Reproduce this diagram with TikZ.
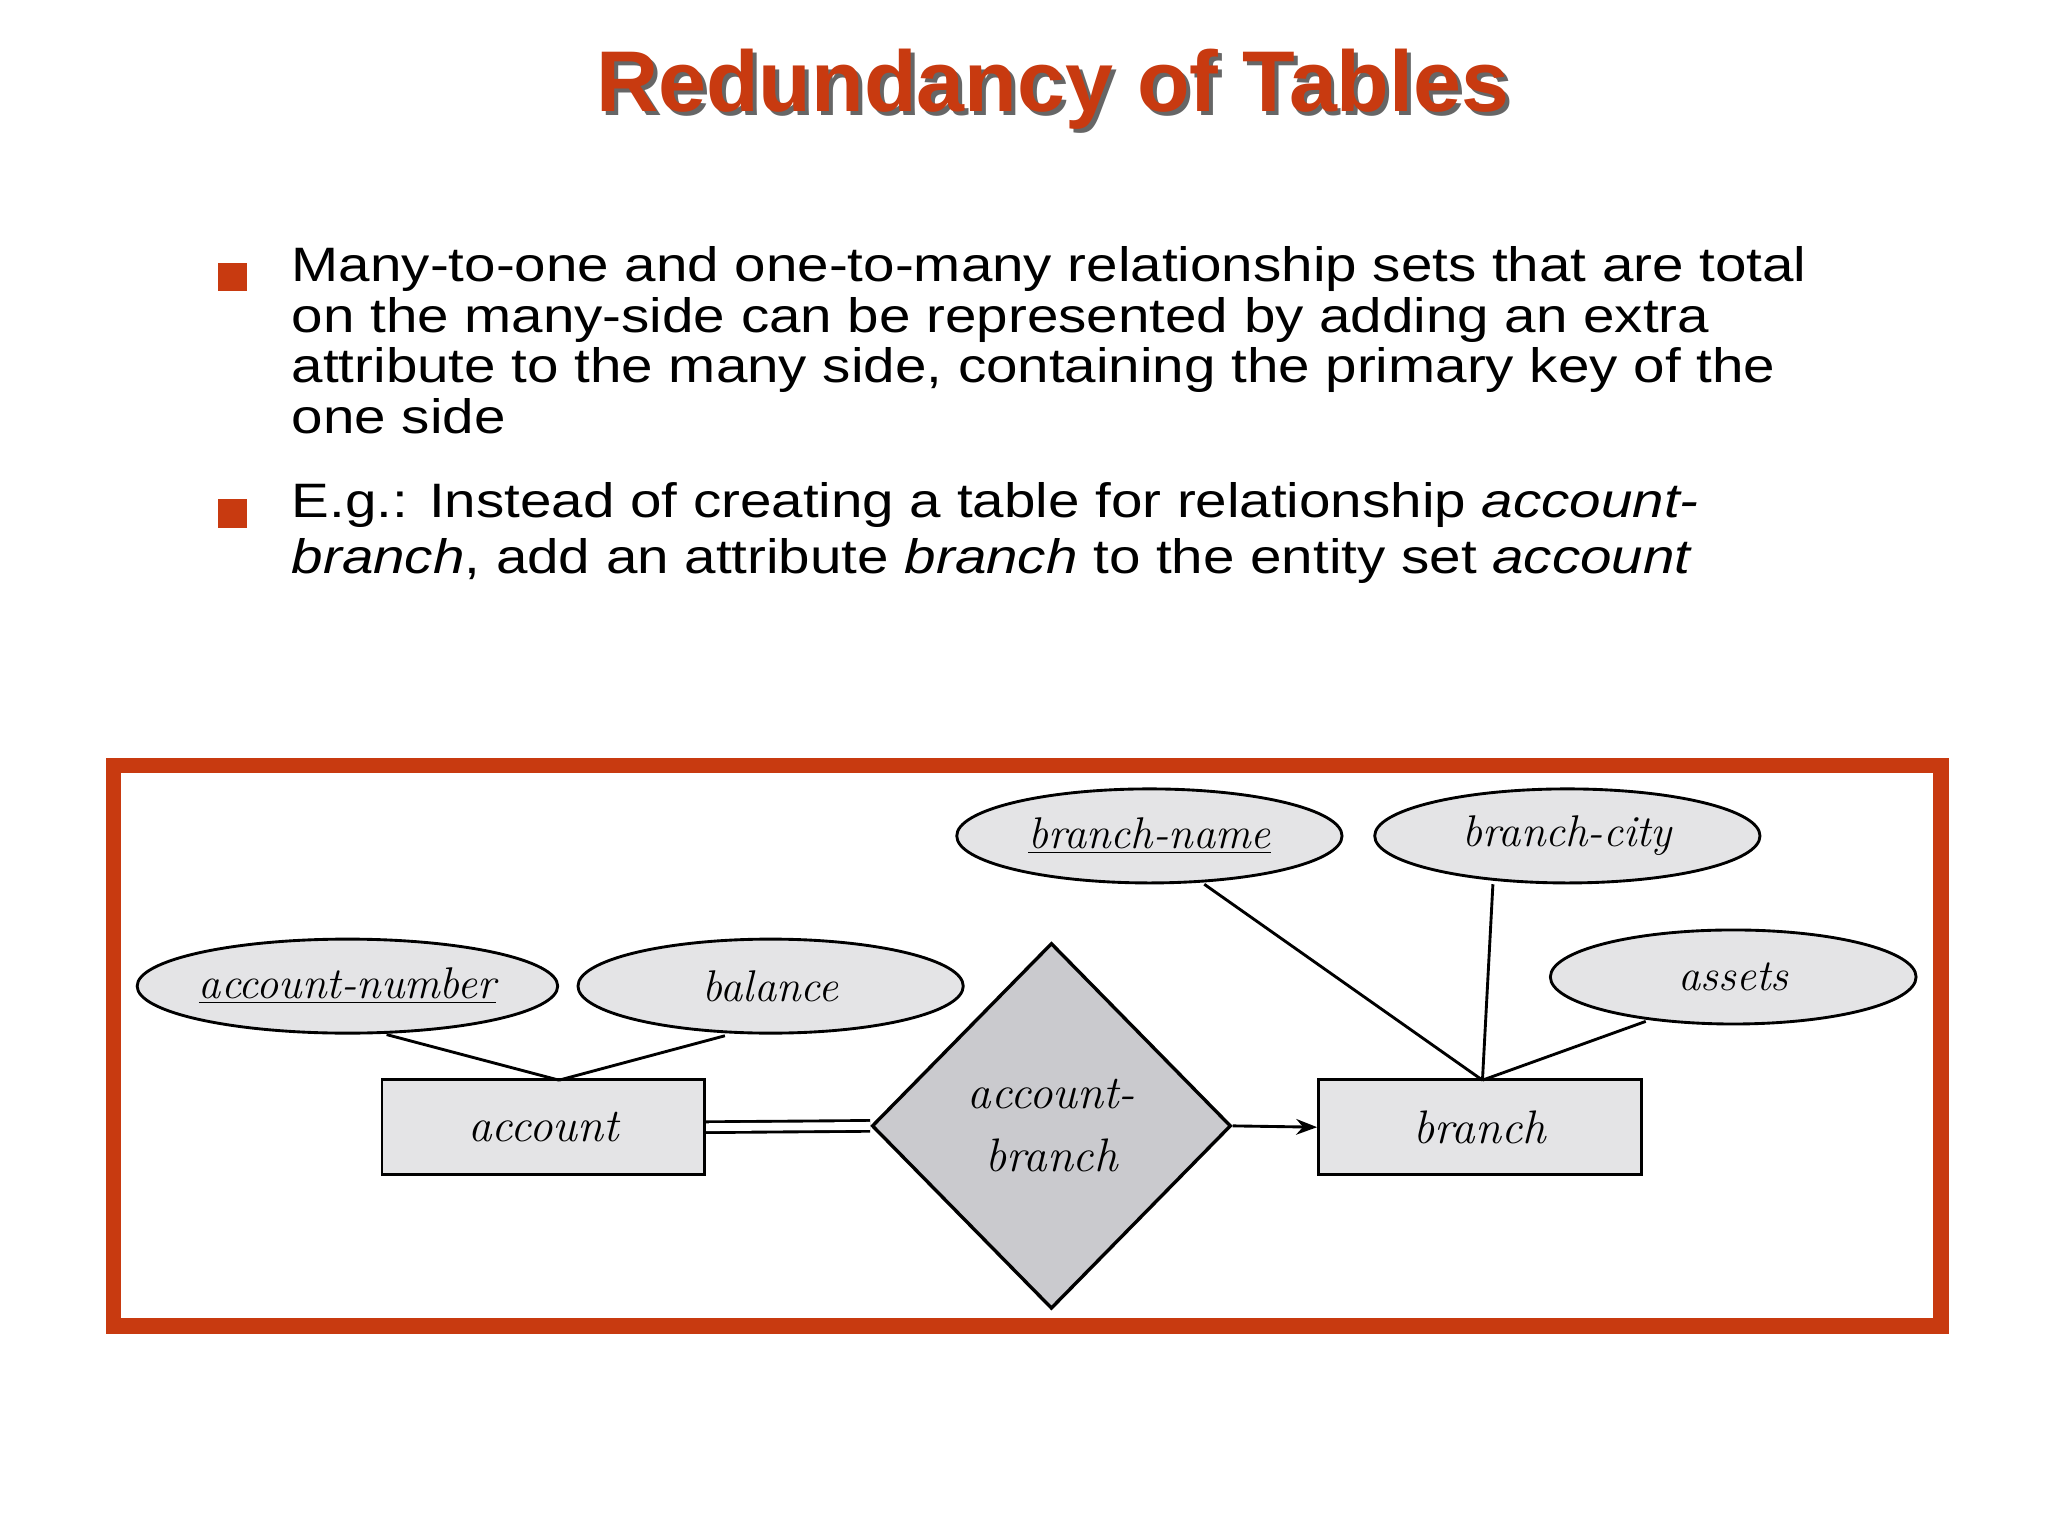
\documentclass[tikz,border=0pt]{standalone}
\usepackage{fontspec}
\setmainfont{Liberation Sans}
\newfontfamily\bodyfont[FakeStretch=1.17]{Liberation Sans}
\newfontfamily\erfont{Latin Modern Roman}
\usetikzlibrary{shapes.geometric,arrows.meta}
\definecolor{titred}{HTML}{C83A10}
\definecolor{attrfill}{HTML}{E4E4E6}
\definecolor{relfill}{HTML}{CACACE}
\begin{document}
\begin{tikzpicture}[x=0.5pt,y=-0.5pt,
  attr/.style={ellipse,draw,line width=1.1pt,fill=attrfill,minimum width=#1*0.5pt,minimum height=36pt,inner sep=0pt,font=\erfont\itshape\fontsize{17}{20}\selectfont},
  entity/.style={rectangle,draw,line width=1.1pt,fill=attrfill,minimum width=123.5pt,minimum height=36.5pt,font=\erfont\itshape\fontsize{18}{20}\selectfont},
  body/.style={anchor=north west,align=left,inner sep=0pt,font=\bodyfont\fontsize{18.5}{19.5}\selectfont},
  bul/.style={fill=titred,minimum size=11pt,inner sep=0pt},
  link/.style={line width=1.1pt}]
\useasboundingbox (0,0) rectangle (1568,1176);
\fill[white] (0,0) rectangle (1568,1176);
% title
\node (tsh) at (809,71) {\fontsize{33}{36}\selectfont\bfseries\color{black!60}Redundancy of Tables};
\node (title) at (806,68) {\fontsize{33}{36}\selectfont\bfseries\color{titred}Redundancy of Tables};
% bullets
\node[bul] (b1) at (178,212) {};
\node[bul] (b2) at (178,393) {};
\node[body] (t1) at (223,188) {Many-to-one and one-to-many relationship sets that are total\\on the many-side can be represented by adding an extra\\attribute to the many side, containing the primary key of the\\one side};
\node[body,font=\bodyfont\fontsize{18.5}{21.5}\selectfont] (t2) at (223,369) {E.g.: Instead of creating a table for relationship \emph{account-}\\\emph{branch}, add an attribute \emph{branch} to the entity set \emph{account}};
% frame
\draw[titred,line width=6pt] (87,586) rectangle (1486,1015);
% ER
\node[attr=322] (an) at (266,755) {\underline{account-number}};
\node[attr=295] (bal) at (590,755) {balance};
\node[attr=295] (bn) at (880,640) {\underline{branch-name}};
\node[attr=295] (bc) at (1200,640) {branch-city};
\node[attr=280] (as) at (1327,748) {assets};
\node[entity] (acc) at (416,863) {account};
\node[entity] (br) at (1133,863) {branch};
\node[diamond,draw,line width=1.3pt,fill=relfill,minimum width=137.5pt,minimum height=140pt,inner sep=0pt,align=center,font=\erfont\itshape\fontsize{18}{24}\selectfont] (ab) at (805,862) {account-\\branch};
\coordinate (accTop) at (428,827);
\coordinate (brTop) at (1135,827);
\draw[link] (an.south) ++(30,0) -- (accTop);
\draw[link] (bal) ++(-35,38) -- (accTop);
\draw[link] (bn) ++(42,37) -- (brTop);
\draw[link] (bc) ++(-57,37) -- (brTop);
\draw[link] (as) ++(-67,34) -- (brTop);
\draw[line width=1.1pt,double,double distance=3pt] (acc.east) -- (ab.west);
\draw[link,-{Stealth[length=8pt]}] (ab.east) -- (br.west);
\end{tikzpicture}
\end{document}
